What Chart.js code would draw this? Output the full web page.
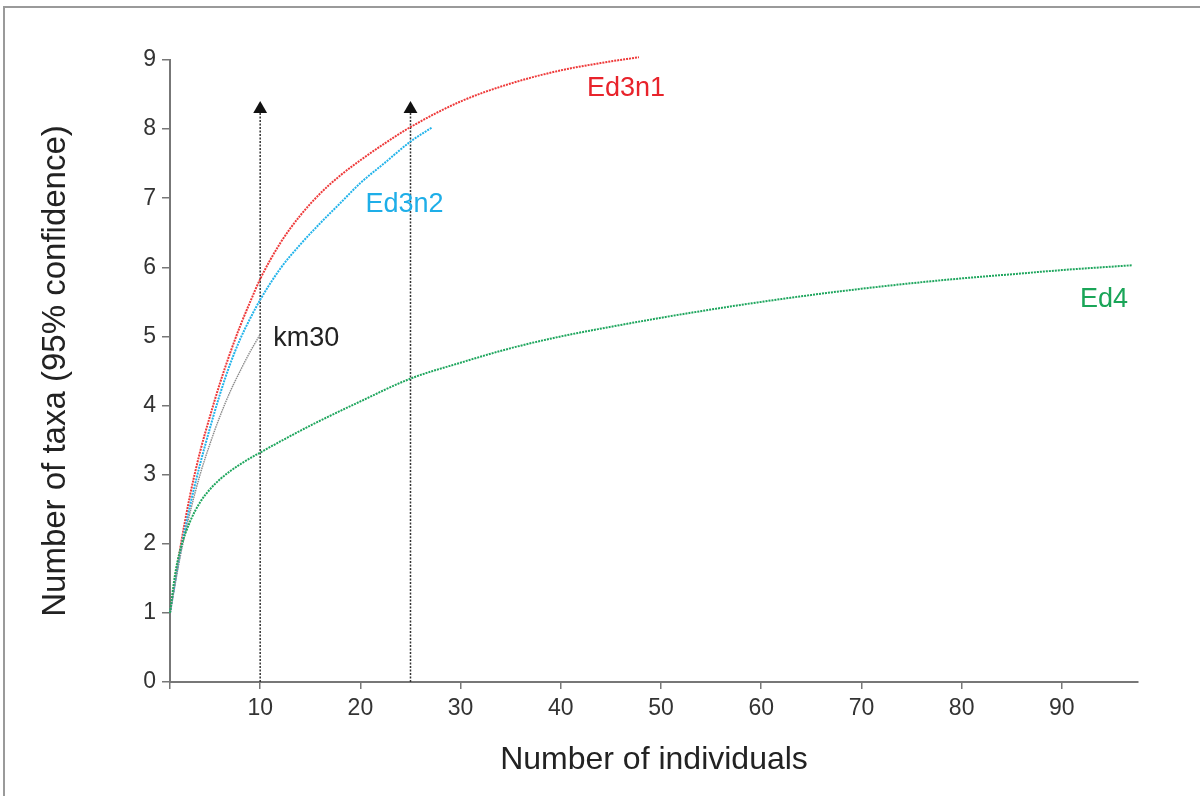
<!DOCTYPE html>
<html>
<head>
<meta charset="utf-8">
<script src="https://cdn.jsdelivr.net/npm/chart.js@4.4.1/dist/chart.umd.min.js"></script>
<style>
  html, body { margin: 0; padding: 0; background: #fff; }
  #wrap { position: relative; width: 1200px; height: 796px; overflow: hidden; }
  #frame { position: absolute; left: 3px; top: 6px; width: 1200px; height: 800px;
           border-top: 2px solid #9a9a9a; border-left: 2px solid #9a9a9a; pointer-events: none; }
</style>
</head>
<body>
<div id="wrap">
  <canvas id="rarefaction" width="1200" height="796"></canvas>
  <div id="frame"></div>
</div>
<script>
// Rarefaction curves, values

// Ed3n1 (red)
const ed3n1X = [1, 2, 3, 4, 5, 6, 7, 8, 9, 10, 12, 14, 16, 18, 20, 22.5, 25, 30, 35, 40, 45, 47.8];
const ed3n1Y = [1, 1.92, 2.7, 3.33, 3.85, 4.33, 4.76, 5.15, 5.5, 5.83, 6.35, 6.75, 7.07, 7.33, 7.55, 7.8, 8.03, 8.4, 8.66, 8.85, 8.98, 9.04];

// Ed3n2 (cyan)
const ed3n2X = [1, 2, 3, 4, 5, 6, 7, 8, 9, 10, 12, 14, 16, 18, 20, 22.5, 25, 27.1];
const ed3n2Y = [1, 1.85, 2.55, 3.15, 3.68, 4.17, 4.6, 4.96, 5.26, 5.53, 5.98, 6.33, 6.64, 6.93, 7.22, 7.52, 7.82, 8.02];

// km30 (grey)
const km30X = [1, 2, 3, 4, 5, 6, 7, 8, 9, 10];
const km30Y = [1, 1.8, 2.45, 3.0, 3.45, 3.85, 4.2, 4.5, 4.78, 5.03];

// Ed4 (green)
const ed4X = [1, 1.5, 2, 3, 4, 5, 6, 7, 8, 10, 12, 15, 20, 25, 30, 35, 40, 45, 50, 55, 60, 65, 70, 75, 80, 85, 90, 97];
const ed4Y = [1, 1.55, 1.9, 2.32, 2.6, 2.79, 2.935, 3.05, 3.15, 3.32, 3.48, 3.71, 4.06, 4.39, 4.62, 4.83, 5.0, 5.14, 5.27, 5.39, 5.5, 5.6, 5.69, 5.77, 5.84, 5.9, 5.96, 6.03];

// arrows marking sample sizes
const arrowX = [10, 25];
const arrowTop = 8.25;
const arrowHead = 8.29;

// axis ticks
const xTickValues = [1, 10, 20, 30, 40, 50, 60, 70, 80, 90];
const yTickValues = [0, 1, 2, 3, 4, 5, 6, 7, 8, 9];

// curve labels
const labelNames = ['Ed3n1', 'Ed3n2', 'km30', 'Ed4'];
const labelX = [46.5, 24.4, 14.6, 94.2];
const labelY = [8.59, 6.91, 4.97, 5.53];
const labelColors = ['#e8232b', '#1eaee8', '#222222', '#1aa558'];

const FONT = "'Liberation Sans', Arial, Helvetica, sans-serif";

function toPoints(xs, ys) {
    return xs.map((x, i) => ({ x: x, y: ys[i] }));
}

function curve(label, xs, ys, color, width, dash) {
    return {
        label: label,
        data: toPoints(xs, ys),
        borderColor: color,
        borderWidth: width,
        borderDash: dash,
        pointRadius: 0,
        fill: false,
        clip: 8,
        cubicInterpolationMode: 'monotone',
        order: 2
    };
}

const datasets = [];

// arrow shafts and heads
arrowX.forEach(x => {
    datasets.push({
        label: 'arrow',
        data: [{ x: x, y: 0 }, { x: x, y: arrowTop }],
        borderColor: '#333',
        borderWidth: 1.5,
        borderDash: [2, 1.5],
        pointRadius: 0,
        fill: false,
        order: 3
    });
    datasets.push({
        label: 'head',
        type: 'scatter',
        data: [{ x: x, y: arrowHead }],
        pointStyle: 'triangle',
        pointRadius: 8,
        backgroundColor: '#111',
        borderColor: '#111',
        borderWidth: 0,
        order: 1
    });
});

datasets.push(curve('Ed4', ed4X, ed4Y, '#1fa65e', 2, [2, 1]));
datasets.push(curve('km30', km30X, km30Y, '#8a8a8a', 1.4, [1.5, 0.8]));
datasets.push(curve('Ed3n2', ed3n2X, ed3n2Y, '#22b3ea', 2, [2, 1]));
datasets.push(curve('Ed3n1', ed3n1X, ed3n1Y, '#ee3a3a', 2, [2, 1]));

// draws the curve names at data positions
const curveLabels = {
    id: 'curveLabels',
    afterDatasetsDraw(chart) {
        const ctx = chart.ctx;
        const xs = chart.scales.x, ys = chart.scales.y;
        ctx.save();
        ctx.font = '27px ' + FONT;
        ctx.textAlign = 'center';
        ctx.textBaseline = 'middle';
        labelNames.forEach((name, i) => {
            ctx.fillStyle = labelColors[i];
            ctx.fillText(name, xs.getPixelForValue(labelX[i]), ys.getPixelForValue(labelY[i]));
        });
        ctx.restore();
    }
};

const ctx = document.getElementById('rarefaction').getContext('2d');

new Chart(ctx, {
    type: 'line',
    data: { datasets: datasets },
    options: {
        responsive: false,
        animation: false,
        layout: { padding: { top: 60, right: 62, left: 0, bottom: 0 } },
        plugins: {
            legend: { display: false },
            tooltip: { enabled: false }
        },
        scales: {
            x: {
                type: 'linear',
                min: 1,
                max: 97.6,
                afterFit: s => { s.height = 114; },
                afterBuildTicks: s => { s.ticks = xTickValues.map(v => ({ value: v })); },
                border: { color: '#777', width: 2 },
                grid: { drawOnChartArea: false, drawTicks: true, tickLength: 7, color: '#777', lineWidth: 1.5 },
                ticks: {
                    color: '#333',
                    font: { family: FONT, size: 23 },
                    padding: 6,
                    maxRotation: 0,
                    autoSkip: false,
                    callback: v => (v === 1 ? '' : v)
                },
                title: {
                    display: true,
                    text: 'Number of individuals',
                    color: '#222',
                    font: { family: FONT, size: 32 },
                    padding: { top: 0, bottom: 17 }
                }
            },
            y: {
                min: 0,
                max: 9,
                afterFit: s => { s.width = 170; },
                afterBuildTicks: s => { s.ticks = yTickValues.map(v => ({ value: v })); },
                border: { color: '#777', width: 2 },
                grid: { drawOnChartArea: false, drawTicks: true, tickLength: 8, color: '#777', lineWidth: 1.5 },
                ticks: {
                    color: '#333',
                    font: { family: FONT, size: 23 },
                    padding: 6
                },
                title: {
                    display: true,
                    text: 'Number of taxa (95% confidence)',
                    color: '#222',
                    font: { family: FONT, size: 33 },
                    padding: { top: 36, bottom: 0 }
                }
            }
        }
    },
    plugins: [curveLabels]
});
</script>
</body>
</html>
